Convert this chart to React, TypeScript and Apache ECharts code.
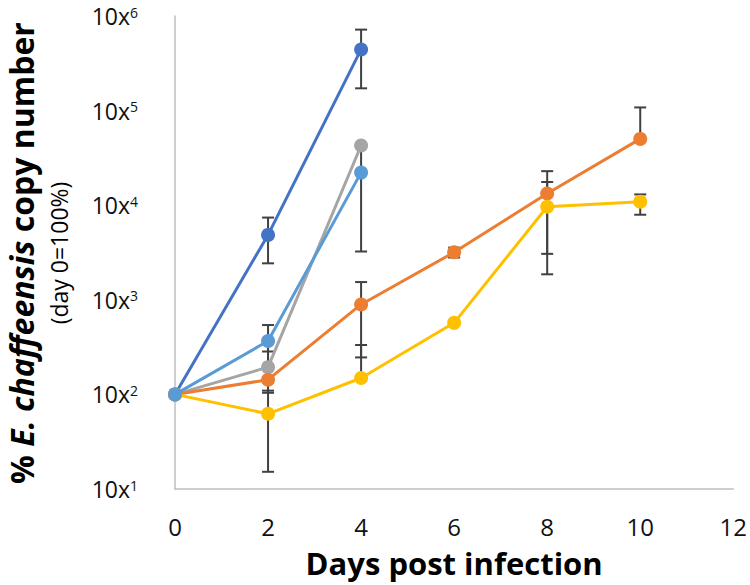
import React, { useEffect, useRef } from "react";
import * as echarts from "echarts";

const days = [0, 2, 4, 6, 8, 10];
const yTicks = [10, 100, 1000, 10000, 100000, 1000000];

const darkBlue = [100, 4850, 443000, null, null, null];
const gray = [100, 194, 42800, null, null, null];
const orange = [100, 143, 893, 3180, 13300, 50200];
const yellow = [100, 62.4, 149, 571, 9620, 10900];
const lightBlue = [100, 367, 22100, null, null, null];

// error bars: [day, low, high] (null = side not drawn)
const darkBlueErr = [[2, 2430, 7400], [4, 172000, 718000]];
const grayErr = [[2, 104, 284]];
const orangeErr = [[4, 246, 1540], [6, 2800, 3560], [8, 3060, 22900], [10, null, 108000]];
const yellowErr = [[2, 15.2, 109.6], [4, null, 333], [8, 1860, 17600], [10, 7930, 13000]];
const lightBlueErr = [[2, 193, 541], [4, 3240, 41000]];

const FONT = "'Open Sans', sans-serif";

export default function App() {
  const ref = useRef<HTMLDivElement>(null);
  useEffect(() => {
    document.body.style.margin = "0";
    const chart = echarts.init(ref.current!, null, { renderer: "svg" });
    const mk = (name: string, vals: (number | null)[], color: string, z: number) => ({
      name,
      type: "line",
      data: days.map((d, i) => (vals[i] == null ? null : [d, vals[i]])).filter((p) => p),
      symbol: "circle",
      symbolSize: 14,
      lineStyle: { color, width: 3 },
      itemStyle: { color },
      z,
    });
    const errSeries = (err: any[], vals: (number | null)[]) => ({
      type: "custom",
      z: 1,
      data: err.map((e) => {
        const v = vals[days.indexOf(e[0])] as number;
        return [e[0], e[1] == null ? v : e[1], e[2] == null ? v : e[2], e[1] == null ? 1 : 0, e[2] == null ? 1 : 0];
      }),
      renderItem: (params: any, api: any) => {
        const x = api.value(0);
        const lo = api.coord([x, api.value(1)]);
        const hi = api.coord([x, api.value(2)]);
        const noLo = api.value(3) === 1;
        const noHi = api.value(4) === 1;
        const style = { stroke: "#404040", lineWidth: 2 };
        const children: any[] = [
          { type: "line", shape: { x1: lo[0], y1: lo[1], x2: hi[0], y2: hi[1] }, style },
        ];
        if (!noHi) children.push({ type: "line", shape: { x1: hi[0] - 6, y1: hi[1], x2: hi[0] + 6, y2: hi[1] }, style });
        if (!noLo) children.push({ type: "line", shape: { x1: lo[0] - 6, y1: lo[1], x2: lo[0] + 6, y2: lo[1] }, style });
        return { type: "group", children };
      },
    });

    chart.setOption({
      animation: false,
      textStyle: { fontFamily: FONT },
      grid: { left: 175, right: 14, top: 16, bottom: 96, containLabel: false },
      xAxis: {
        type: "value",
        min: 0,
        max: 12,
        interval: 2,
        axisLine: { lineStyle: { color: "#BFBFBF", width: 1.5 } },
        axisTick: { show: false },
        splitLine: { show: false },
        axisLabel: { fontSize: 24, color: "#111", margin: 25, fontFamily: FONT },
        name: "Days post infection",
        nameLocation: "middle",
        nameGap: 58,
        nameTextStyle: { fontSize: 31, fontWeight: "bold", color: "#000", fontFamily: FONT },
      },
      yAxis: {
        type: "log",
        logBase: 10,
        min: yTicks[0],
        max: yTicks[yTicks.length - 1],
        axisLine: { show: true, lineStyle: { color: "#BFBFBF", width: 1.5 } },
        axisTick: { show: false },
        splitLine: { show: false },
        axisLabel: {
          margin: 37,
          fontSize: 23,
          lineHeight: 22,
          color: "#111",
          fontFamily: FONT,
          formatter: (v: number) => `10x{s|${Math.round(Math.log10(v))}}`,
          rich: {
            s: { fontSize: 14, lineHeight: 22, verticalAlign: "top", color: "#111", fontFamily: FONT },
          },
        },
      },
      graphic: [
        {
          type: "text",
          x: 21,
          y: 253,
          rotation: Math.PI / 2,
          style: {
            text: "% {i|E. chaffeensis} copy number",
            fontSize: 32,
            fontWeight: "bold",
            fontFamily: FONT,
            fill: "#000",
            align: "center",
            verticalAlign: "middle",
            rich: { i: { fontSize: 32, fontWeight: "bold", fontStyle: "italic", fontFamily: FONT, fill: "#000" } },
          },
        },
        {
          type: "text",
          x: 59,
          y: 253,
          rotation: Math.PI / 2,
          style: {
            text: "(day 0=100%)",
            fontSize: 23,
            fontFamily: FONT,
            fill: "#000",
            align: "center",
            verticalAlign: "middle",
          },
        },
      ],
      series: [
        errSeries(darkBlueErr, darkBlue),
        errSeries(grayErr, gray),
        errSeries(orangeErr, orange),
        errSeries(yellowErr, yellow),
        errSeries(lightBlueErr, lightBlue),
        mk("darkBlue", darkBlue, "#4472C4", 2),
        mk("gray", gray, "#A5A5A5", 3),
        mk("orange", orange, "#ED7D31", 4),
        mk("yellow", yellow, "#FFC000", 5),
        mk("lightBlue", lightBlue, "#5B9BD5", 6),
      ],
    });
    return () => chart.dispose();
  }, []);
  return <div ref={ref} style={{ width: 750, height: 585 }} />;
}
